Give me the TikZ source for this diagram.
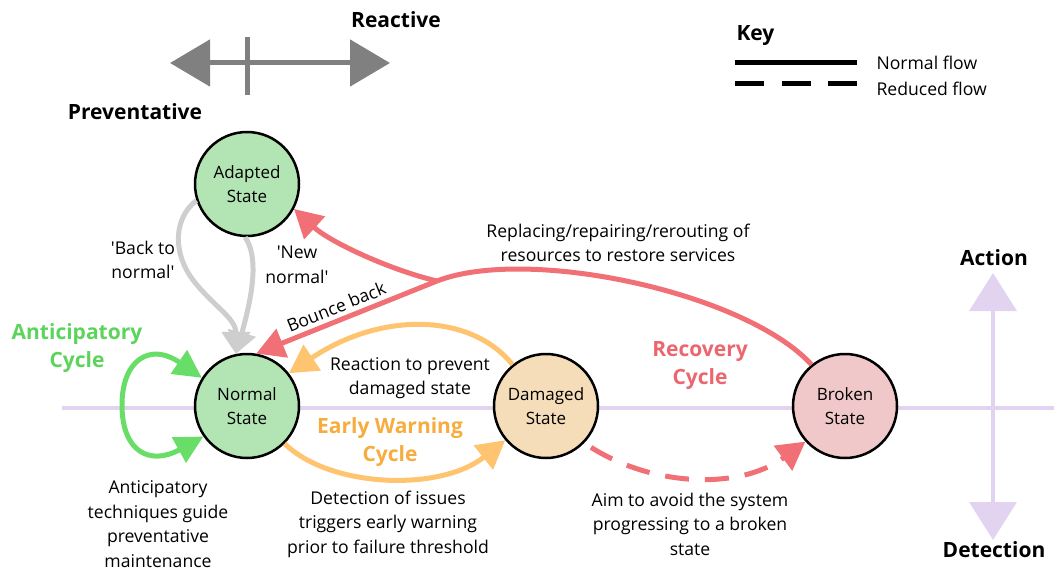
\documentclass[tikz,border=0pt]{standalone}
\usepackage{fontspec}
\setmainfont{Open Sans}
\usetikzlibrary{arrows.meta}
\definecolor{adaptgreen}{RGB}{178,228,180}
\definecolor{damagetan}{RGB}{245,221,186}
\definecolor{brokenpink}{RGB}{240,200,202}
\definecolor{axislilac}{RGB}{226,212,240}
\definecolor{paleflow}{RGB}{206,206,206}
\definecolor{darkbar}{RGB}{128,128,128}
\definecolor{redflow}{RGB}{240,112,118}
\definecolor{orangeflow}{RGB}{255,196,112}
\definecolor{orangetext}{RGB}{246,172,62}
\definecolor{greenflow}{RGB}{104,222,104}
\definecolor{greentext}{RGB}{92,212,92}
\definecolor{redtext}{RGB}{236,102,112}
\begin{document}
\begin{tikzpicture}[x=1pt,y=-1pt,
    font=\fontsize{17.6}{24.5}\selectfont,
    state/.style={circle,draw,line width=2.5pt,minimum size=104pt,inner sep=0pt,align=center,
      font=\fontsize{17}{24.5}\selectfont},
    note/.style={align=center,inner sep=1pt},
    head/.style={font=\fontsize{21}{28}\selectfont\bfseries,align=center},
    flow/.style={line width=5pt,-{Triangle[length=28pt,width=30pt]}}]
  \useasboundingbox (0,0) rectangle (1054,572);
  \coordinate (axl) at (62,408);
  \coordinate (axr) at (1054,408);
  \coordinate (act) at (993,273);
  \coordinate (det) at (993,540);
  \draw[axislilac,line width=4pt] (axl) -- (axr);
  \draw[axislilac,line width=4pt,{Triangle[length=38pt,width=47pt]}-{Triangle[length=38pt,width=47pt]}] (act) -- (det);
  \coordinate (prev) at (170,63);
  \coordinate (reac) at (390,63);
  \coordinate (ticka) at (247,37);
  \coordinate (tickb) at (247,95);
  \draw[darkbar,line width=5pt,{Triangle[length=40pt,width=46pt]}-{Triangle[length=40pt,width=46pt]}] (prev) -- (reac);
  \draw[darkbar,line width=5pt] (ticka) -- (tickb);
  \node[head] (reactive) at (396,20) {Reactive};
  \node[head] (preventative) at (135,112) {Preventative};
  \node[head] (action) at (994,258) {Action};
  \node[head] (detection) at (994,550) {Detection};
  \node[head,anchor=west] (key) at (733,36) {Key};
  \coordinate (ka) at (735,63);
  \coordinate (kb) at (857,63);
  \coordinate (kc) at (735,84);
  \coordinate (kd) at (857,84);
  \draw[line width=5pt] (ka) -- (kb);
  \draw[line width=5pt,dash pattern=on 29pt off 17.5pt] (kc) -- (kd);
  \node[anchor=west] (normalkey) at (873,63) {Normal flow};
  \node[anchor=west] (reducedkey) at (873,89) {Reduced flow};
  \node[state,fill=adaptgreen] (adapted) at (247,184) {Adapted\\State};
  \node[state,fill=adaptgreen] (normal) at (247,406) {Normal\\State};
  \node[state,fill=damagetan] (damaged) at (546,406) {Damaged\\State};
  \node[state,fill=brokenpink] (broken) at (845,406) {Broken\\State};
  \begin{scope}[paleflow,line width=5pt,-{Triangle[length=22pt,width=28pt]}]
    \draw (adapted.198) .. controls (174,218) and (172,252) .. (193,280) .. controls (213,306) and (236,318) .. (normal.102);
    \draw (adapted.268) .. controls (258,256) and (254,290) .. (normal.102);
  \end{scope}
  \node[note] (backnormal) at (143,260) {\textquotesingle Back to\\normal\textquotesingle};
  \node[note] (newnormal) at (297,265) {\textquotesingle New\\normal\textquotesingle};
  \coordinate (fork) at (437,281);
  \begin{scope}[redflow]
    \draw[line width=5pt] (broken.129) .. controls (745,292) and (527,246) .. (fork);
    \draw[flow] (fork) .. controls (390,270) and (330,242) .. (adapted.332);
    \draw[flow] (fork) -- node[pos=0.53,sloped,above=1pt,black] {Bounce back} (normal.80);
    \draw[flow,dash pattern=on 24pt off 16pt,dash phase=-8pt] (damaged.-44) .. controls (650,488) and (740,490) .. (broken.222);
  \end{scope}
  \begin{scope}[orangeflow]
    \draw[flow] (damaged.129) .. controls (470,312) and (380,312) .. (normal.38);
    \draw[flow] (normal.-45) .. controls (330,488) and (440,492) .. (damaged.220);
  \end{scope}
  \draw[greenflow,line width=5pt,{Triangle[length=28pt,width=28pt]}-{Triangle[length=28pt,width=28pt]}]
    (normal.148) .. controls (150,342) and (122,360) .. (122,405) .. controls (122,452) and (150,466) .. (normal.215);
  \node[note] (replacing) at (618,243) {Replacing/repairing/rerouting of\\resources to restore services};
  \node[note] (reaction) at (410,378) {Reaction to prevent\\damaged state};
  \node[head,text=greentext] (anticycle) at (77,348) {Anticipatory\\Cycle};
  \node[head,text=orangetext] (earlycycle) at (390,442) {Early Warning\\Cycle};
  \node[head,text=redtext] (recoverycycle) at (700,366) {Recovery\\Cycle};
  \node[note] (antitext) at (158,524) {Anticipatory\\techniques guide\\preventative\\maintenance};
  \node[note] (detecttext) at (388,524) {Detection of issues\\triggers early warning\\prior to failure threshold};
  \node[note] (aimtext) at (690,524) {Aim to avoid the system\\progressing to a broken\\state};
\end{tikzpicture}
\end{document}
